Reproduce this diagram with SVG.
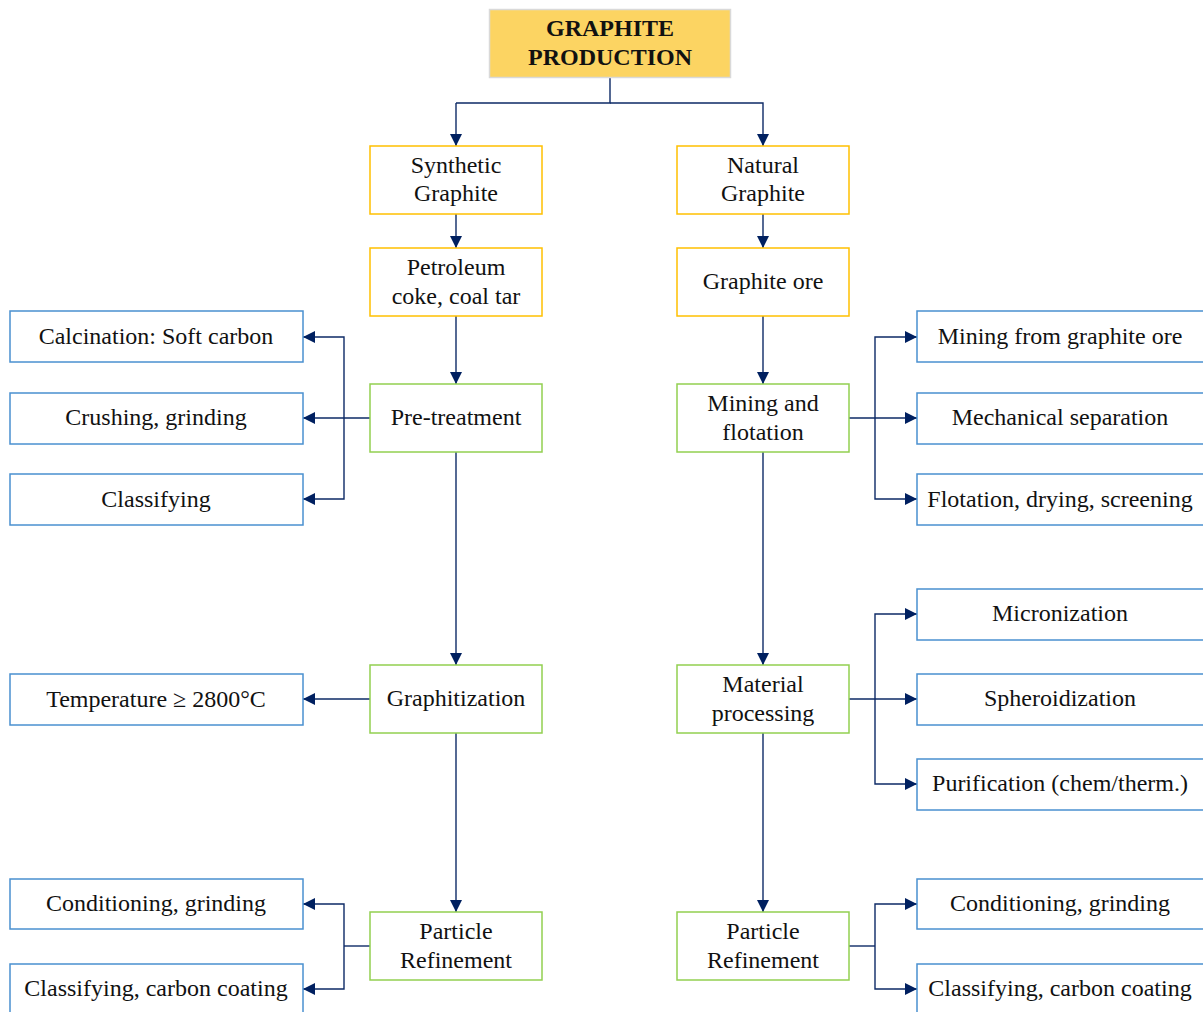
<svg xmlns="http://www.w3.org/2000/svg" width="1203" height="1012" viewBox="0 0 1203 1012">
  <style>
    text { font-family: "Liberation Serif", "Times New Roman", "DejaVu Serif", serif; font-size: 24px; fill: #111; text-anchor: middle; }
    .title { font-weight: bold; font-size: 24px; }
    .head { fill: #FCD462; stroke: #D9D9D9; stroke-width: 1.5; }
    .src { fill: #fff; stroke: #FFC000; stroke-width: 1.5; }
    .step { fill: #fff; stroke: #92D050; stroke-width: 1.5; }
    .leaf { fill: #fff; stroke: #4A90D0; stroke-width: 1.5; }
    .conn path { fill: none; stroke: #0D2A66; stroke-width: 1.4; }
    .conn path.arr { marker-end: url(#ah); }
  </style>
  <defs>
    <marker id="ah" viewBox="0 0 10 10" refX="10" refY="5" markerWidth="12" markerHeight="12" markerUnits="userSpaceOnUse" orient="auto">
      <path d="M0,0 L10,5 L0,10 Z" fill="#002060"/>
    </marker>
  </defs>

  <rect width="1203" height="1012" fill="#fff"/>

  <!-- connectors -->
  <g id="connectors" class="conn">
    <path d="M610,78 V103 H456" />
    <path class="arr" d="M456,103 V146" />
    <path class="arr" d="M610,103 H763 V146" />
    <path class="arr" d="M456,214 V248" />
    <path class="arr" d="M763,214 V248" />
    <path class="arr" d="M456,316 V384" />
    <path class="arr" d="M763,316 V384" />
    <path class="arr" d="M456,452 V665" />
    <path class="arr" d="M763,452 V665" />
    <path class="arr" d="M456,733 V912" />
    <path class="arr" d="M763,733 V912" />
    <!-- pre-treatment branches -->
    <path class="arr" d="M370,418 H303" />
    <path class="arr" d="M344,418 V337 H303" />
    <path class="arr" d="M344,418 V499 H303" />
    <!-- graphitization -->
    <path class="arr" d="M370,699 H303" />
    <!-- synthetic refinement -->
    <path d="M370,946 H344" />
    <path class="arr" d="M344,946 V904 H303" />
    <path class="arr" d="M344,946 V989 H303" />
    <!-- mining and flotation -->
    <path class="arr" d="M849,418 H917" />
    <path class="arr" d="M875,418 V337 H917" />
    <path class="arr" d="M875,418 V499 H917" />
    <!-- material processing -->
    <path class="arr" d="M849,699 H917" />
    <path class="arr" d="M875,699 V614 H917" />
    <path class="arr" d="M875,699 V784 H917" />
    <!-- natural refinement -->
    <path d="M849,946 H875" />
    <path class="arr" d="M875,946 V904 H917" />
    <path class="arr" d="M875,946 V989 H917" />
  </g>

  <g id="graphite-production">
    <rect class="head" x="489.5" y="9.5" width="241" height="68"/>
    <text class="title" x="610" y="36">GRAPHITE</text>
    <text class="title" x="610" y="65">PRODUCTION</text>
  </g>

  <g id="synthetic-graphite">
    <rect class="src" x="370" y="146" width="172" height="68"/>
    <text x="456" y="173">Synthetic</text>
    <text x="456" y="201">Graphite</text>
  </g>
  <g id="natural-graphite">
    <rect class="src" x="677" y="146" width="172" height="68"/>
    <text x="763" y="173">Natural</text>
    <text x="763" y="201">Graphite</text>
  </g>
  <g id="petroleum-coke">
    <rect class="src" x="370" y="248" width="172" height="68"/>
    <text x="456" y="275">Petroleum</text>
    <text x="456" y="304">coke, coal tar</text>
  </g>
  <g id="graphite-ore">
    <rect class="src" x="677" y="248" width="172" height="68"/>
    <text x="763" y="289">Graphite ore</text>
  </g>

  <g id="pre-treatment">
    <rect class="step" x="370" y="384" width="172" height="68"/>
    <text x="456" y="425">Pre-treatment</text>
  </g>
  <g id="mining-flotation">
    <rect class="step" x="677" y="384" width="172" height="68"/>
    <text x="763" y="411">Mining and</text>
    <text x="763" y="440">flotation</text>
  </g>
  <g id="graphitization">
    <rect class="step" x="370" y="665" width="172" height="68"/>
    <text x="456" y="706">Graphitization</text>
  </g>
  <g id="material-processing">
    <rect class="step" x="677" y="665" width="172" height="68"/>
    <text x="763" y="692">Material</text>
    <text x="763" y="721">processing</text>
  </g>
  <g id="synthetic-refinement">
    <rect class="step" x="370" y="912" width="172" height="68"/>
    <text x="456" y="939">Particle</text>
    <text x="456" y="968">Refinement</text>
  </g>
  <g id="natural-refinement">
    <rect class="step" x="677" y="912" width="172" height="68"/>
    <text x="763" y="939">Particle</text>
    <text x="763" y="968">Refinement</text>
  </g>

  <!-- left detail boxes -->
  <g id="calcination">
    <rect class="leaf" x="10" y="311" width="293" height="51"/>
    <text x="156" y="344">Calcination: Soft carbon</text>
  </g>
  <g id="crushing">
    <rect class="leaf" x="10" y="393" width="293" height="51"/>
    <text x="156" y="425">Crushing, grinding</text>
  </g>
  <g id="classifying">
    <rect class="leaf" x="10" y="474" width="293" height="51"/>
    <text x="156" y="507">Classifying</text>
  </g>
  <g id="temperature">
    <rect class="leaf" x="10" y="674" width="293" height="51"/>
    <text x="156" y="707">Temperature ≥ 2800°C</text>
  </g>
  <g id="syn-conditioning">
    <rect class="leaf" x="10" y="879" width="293" height="50"/>
    <text x="156" y="911">Conditioning, grinding</text>
  </g>
  <g id="syn-classifying">
    <rect class="leaf" x="10" y="964" width="293" height="52"/>
    <text x="156" y="996">Classifying, carbon coating</text>
  </g>

  <!-- right detail boxes -->
  <g id="mining-ore">
    <rect class="leaf" x="917" y="311" width="292" height="51"/>
    <text x="1060" y="344">Mining from graphite ore</text>
  </g>
  <g id="mechanical-separation">
    <rect class="leaf" x="917" y="393" width="292" height="51"/>
    <text x="1060" y="425">Mechanical separation</text>
  </g>
  <g id="flotation-drying">
    <rect class="leaf" x="917" y="474" width="292" height="51"/>
    <text x="1060" y="507">Flotation, drying, screening</text>
  </g>
  <g id="micronization">
    <rect class="leaf" x="917" y="589" width="292" height="51"/>
    <text x="1060" y="621">Micronization</text>
  </g>
  <g id="spheroidization">
    <rect class="leaf" x="917" y="674" width="292" height="51"/>
    <text x="1060" y="706">Spheroidization</text>
  </g>
  <g id="purification">
    <rect class="leaf" x="917" y="759" width="292" height="51"/>
    <text x="1060" y="791">Purification (chem/therm.)</text>
  </g>
  <g id="nat-conditioning">
    <rect class="leaf" x="917" y="879" width="292" height="50"/>
    <text x="1060" y="911">Conditioning, grinding</text>
  </g>
  <g id="nat-classifying">
    <rect class="leaf" x="917" y="964" width="292" height="52"/>
    <text x="1060" y="996">Classifying, carbon coating</text>
  </g>
</svg>
